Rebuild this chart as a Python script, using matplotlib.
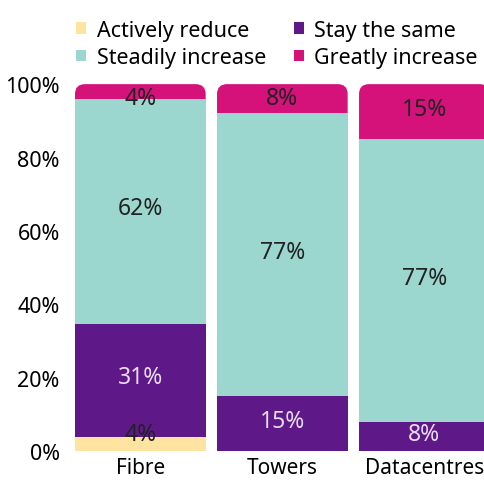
import matplotlib
matplotlib.use("Agg")
import matplotlib.pyplot as plt
from matplotlib.patches import FancyBboxPatch
import numpy as np

categories = ["Fibre", "Towers", "Datacentres"]
series_names = ["Actively reduce", "Stay the same", "Steadily increase", "Greatly increase"]
actively_reduce = [4, 0, 0]
stay_same = [31, 15, 8]
steadily_increase = [62, 77, 77]
greatly_increase = [4, 8, 15]
yticks = [0, 20, 40, 60, 80, 100]

colors = ["#FFE3A1", "#5F1888", "#9BD6CF", "#D4127A"]
text_colors = ["#222222", "#E6DDF0", "#222222", "#222222"]

plt.rcParams["font.family"] = ["Noto Sans", "DejaVu Sans"]

data = np.array([actively_reduce, stay_same, steadily_increase, greatly_increase], dtype=float)
share = data / data.sum(axis=0) * 100

fig = plt.figure(figsize=(4.84, 4.81), dpi=100)
ax = fig.add_axes([0.155, 0.06, 0.845, 0.763])

x = np.arange(len(categories))
width = 0.92
bottom = np.zeros(len(categories))
handles = []
for i, name in enumerate(series_names):
    vals = share[i]
    if i == len(series_names) - 1:
        # top segment gets rounded corners, the part below is hidden by the bar under it
        for j in range(len(categories)):
            ext = 5
            p = FancyBboxPatch((x[j] - width / 2, bottom[j] - ext), width, vals[j] + ext,
                               boxstyle="round,pad=0,rounding_size=0.07",
                               mutation_aspect=100 / 2.88 * 0.845 * 4.84 / (0.763 * 4.81),
                               facecolor=colors[i], edgecolor="none", zorder=1)
            ax.add_patch(p)
        h = ax.bar(x, 0, width, bottom=bottom, color=colors[i], label=name)
    else:
        h = ax.bar(x, vals, width, bottom=bottom, color=colors[i], label=name, zorder=2)
    handles.append(h)
    for j in range(len(categories)):
        if data[i, j] > 0:
            # labels keep clear of the chart edges, like the original
            ypos = min(max(bottom[j] + vals[j] / 2 + 0.8, 4.6), 96.3)
            ax.text(x[j], ypos, f"{int(data[i, j])}%",
                    ha="center", va="center", fontsize=16.5,
                    color=text_colors[i], zorder=3)
    bottom += vals

ax.set_xlim(-0.46, 2.42)
ax.set_ylim(0, 100)
ax.set_yticks(yticks)
ax.set_yticklabels([f"{t}%" for t in yticks], fontsize=15.5)
ax.set_xticks(x)
ax.set_xticklabels(categories, fontsize=15)
ax.tick_params(axis="y", length=0, pad=11)
ax.tick_params(axis="x", length=0, pad=4)
for s in ax.spines.values():
    s.set_visible(False)

# matplotlib fills legend columns first, so reorder to get rows as in the original
order = [0, 2, 1, 3]
fig.legend([handles[k] for k in order], [series_names[k] for k in order],
           loc="upper right", bbox_to_anchor=(1.005, 0.975), ncol=2, fontsize=15.5,
           frameon=False, handlelength=0.45, handleheight=0.45, handletextpad=0.5,
           columnspacing=1.3, labelspacing=0.3, borderaxespad=0.0)

fig.savefig("out.png", dpi=100)
